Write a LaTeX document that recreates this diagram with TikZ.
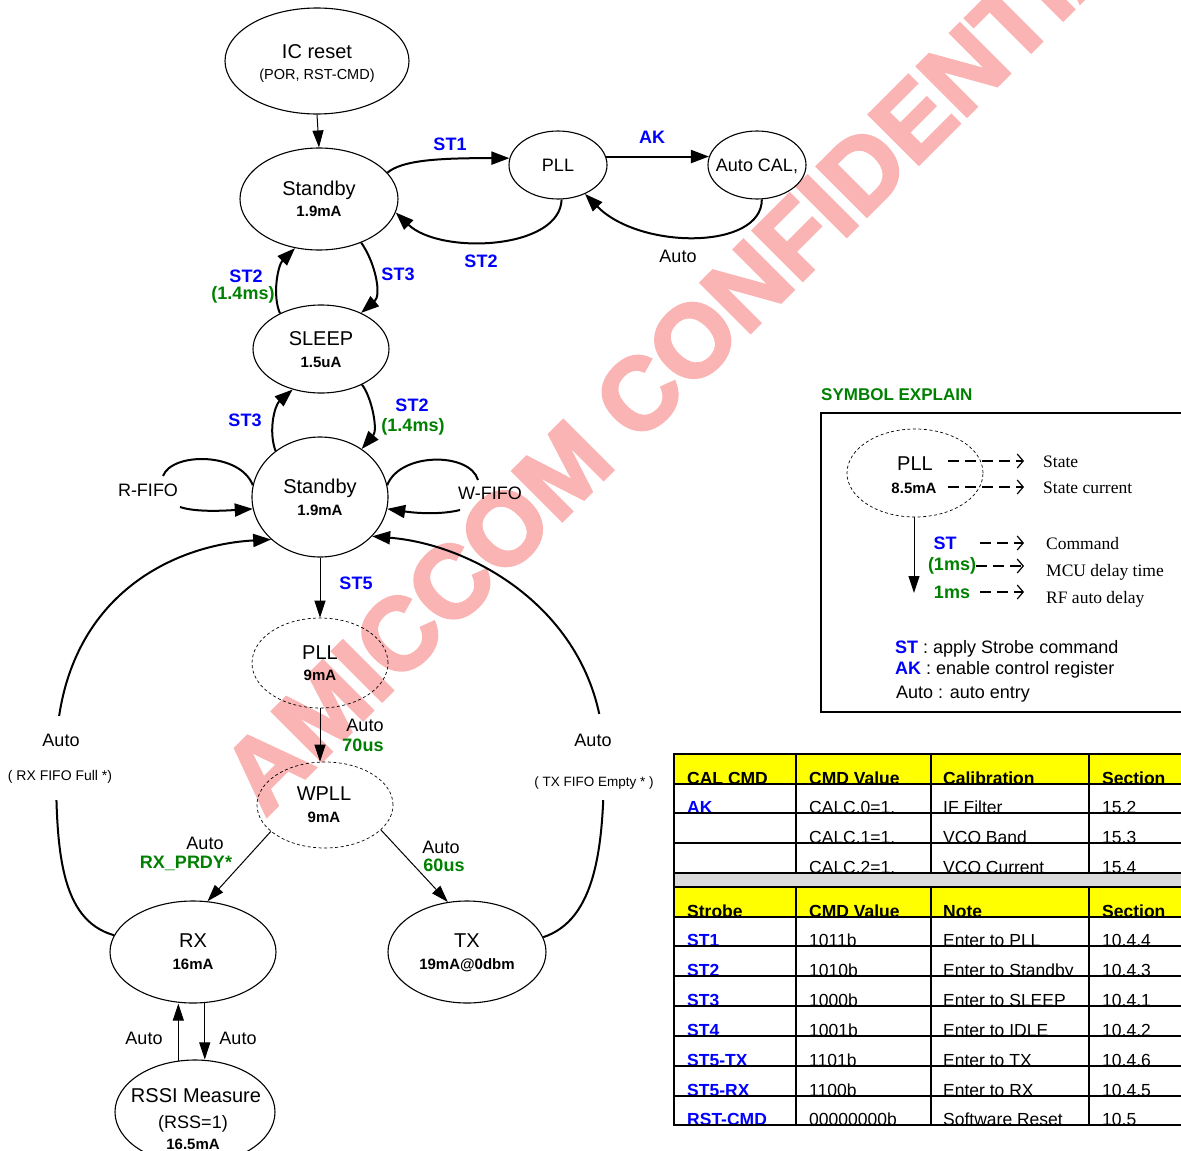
\documentclass[tikz,border=0pt]{standalone}
\usepackage{fontspec}
\setmainfont{Liberation Sans}
\newfontfamily\serifface{Liberation Serif}
\newfontfamily\wmface[FakeBold=3]{Liberation Sans Bold}
\usetikzlibrary{arrows.meta,shapes.geometric,calc}
\definecolor{stblue}{RGB}{0,0,255}
\definecolor{stgreen}{RGB}{0,128,0}
\definecolor{wmpink}{RGB}{250,180,180}
\definecolor{hdryellow}{RGB}{255,255,0}
\definecolor{bandgray}{RGB}{218,218,218}
\newcommand\fsz[1]{\fontsize{#1pt}{#1pt}\selectfont}
\newcommand\tabrow[6]{%
  \node[tcell] (#1a) at (687,#2) {#3};
  \node[tcell] (#1b) at (809,#2) {#4};
  \node[tcell] (#1c) at (943,#2) {#5};
  \node[tcell] (#1d) at (1102,#2) {#6};}
\begin{document}
\begin{tikzpicture}[x=1pt,y=-1pt,
  st/.style={draw, ellipse, line width=1.1pt, inner sep=0pt},
  dst/.style={draw, ellipse, dash pattern=on 3pt off 2.5pt, line width=0.7pt, inner sep=0pt},
  big/.style={anchor=base, inner sep=0pt, font=\fsz{20}},
  cur/.style={anchor=base, inner sep=0pt, font=\fsz{15}\bfseries},
  lb/.style={inner sep=0pt, font=\fsz{18}},
  stl/.style={inner sep=0pt, font=\fsz{18}\bfseries, text=stblue},
  gtl/.style={inner sep=0pt, font=\fsz{18}\bfseries, text=stgreen},
  thk/.style={line width=2pt, -{Triangle[length=18pt,width=13pt]}},
  thn/.style={line width=1pt, -{Triangle[length=17pt,width=11pt]}},
  legdash/.style={line width=1.2pt, dash pattern=on 11pt off 6pt, -{Straight Barb[length=6pt,width=14pt]}},
  sertext/.style={anchor=base west, inner sep=0pt, font=\serifface\fsz{17.5}},
  legtext/.style={anchor=base west, inner sep=0pt, font=\fsz{18}},
  tcell/.style={anchor=base west, inner sep=0pt, font=\fsz{17.5}},
]
\useasboundingbox (0,0) rectangle (1181,1151);
\clip (0,0) rectangle (1181,1151);

% watermark
\node[rotate=45, anchor=base west, inner sep=0pt, text=wmpink, font=\wmface\fsz{102}] (wmk) at (265,818) {AMICCOM CONFIDENTIAL};

% states
\node[st, minimum width=184, minimum height=106] (ic) at (317,61) {};
\node[st, minimum width=158, minimum height=102] (sb1) at (319,199) {};
\node[st, minimum width=98, minimum height=68] (pll1) at (558,165) {};
\node[st, minimum width=98, minimum height=68] (cal) at (757,165) {};
\node[st, minimum width=136, minimum height=88] (slp) at (321,349) {};
\node[st, minimum width=136, minimum height=120] (sb2) at (320,497) {};
\node[dst, minimum width=136, minimum height=90] (pll2) at (320,663) {};
\node[dst, minimum width=136, minimum height=86] (wpll) at (325,805) {};
\node[st, minimum width=166, minimum height=102] (rx) at (193,952) {};
\node[st, minimum width=158, minimum height=102] (tx) at (467,952) {};
\node[st, minimum width=160, minimum height=104] (rssi) at (195,1112) {};

% state texts
\node[big] (ic-t1) at (317,58) {IC reset};
\node[anchor=base, inner sep=0pt, font=\fsz{14.5}] (ic-t2) at (317,79) {(POR, RST-CMD)};
\node[big] (sb1-t1) at (319,195) {Standby};
\node[cur] (sb1-t2) at (319,216.5) {1.9mA};
\node[big, font=\fsz{18}] (pll1-t) at (558,171.5) {PLL};
\node[big, font=\fsz{18}] (cal-t) at (757,171.5) {Auto CAL,};
\node[big] (slp-t1) at (321,345) {SLEEP};
\node[cur] (slp-t2) at (321,367.5) {1.5uA};
\node[big] (sb2-t1) at (320,493.5) {Standby};
\node[cur] (sb2-t2) at (320,515.5) {1.9mA};
\node[big] (pll2-t1) at (320,659) {PLL};
\node[cur] (pll2-t2) at (320,680.5) {9mA};
\node[big] (wpll-t1) at (324,800) {WPLL};
\node[cur] (wpll-t2) at (324,822.5) {9mA};
\node[big] (rx-t1) at (193,947) {RX};
\node[cur] (rx-t2) at (193,969.5) {16mA};
\node[big] (tx-t1) at (467,947) {TX};
\node[cur] (tx-t2) at (467,969.5) {19mA@0dbm};
\node[big] (rssi-t1) at (196,1102) {RSSI Measure};
\node[big, font=\fsz{18}] (rssi-t2) at (193,1128) {(RSS=1)};
\node[cur] (rssi-t3) at (193,1149) {16.5mA};

% transitions
\draw[thn] (ic.south) -- (sb1.north);
\draw[thk] (sb1.21) .. controls (402,160) and (440,158) .. (pll1.172);
\draw[thk] (pll1.10) -- (cal.170);
\draw[thk] (pll1.-84) .. controls (560,250) and (440,255) .. (sb1.-10);
\draw[thk] (cal.-82) .. controls (762,250) and (640,250) .. (pll1.-47);
\draw[thk] (sb1.-46) .. controls (375,262) and (382,295) .. (slp.42);
\draw[thk] (slp.139) .. controls (272,295) and (278,265) .. (sb1.-116);
\draw[thk] (slp.-41) .. controls (372,398) and (378,430) .. (sb2.49);
\draw[thk] (sb2.134) .. controls (268,430) and (275,405) .. (slp.-125);

\coordinate (rf1) at (163,476);
\coordinate (rf2) at (180,507);
\draw[line width=2pt] (rf1) .. controls (172,452) and (240,452) .. (sb2.170);
\draw[thk] (rf2) .. controls (195,512) and (220,511) .. (sb2.-170);
\coordinate (wf1) at (478,480);
\coordinate (wf2) at (460,510);
\draw[line width=2pt] (sb2.10) .. controls (400,452) and (470,452) .. (wf1);
\draw[thk] (wf2) .. controls (440,515) and (415,513) .. (sb2.-10);

\draw[thn] (sb2.south) -- (pll2.north);
\draw[thn] (pll2.south) -- (pll2.south |- wpll.north);
\draw[thn] (wpll.-154) -- (rx.74);
\draw[thn] (wpll.-24) -- (tx.111);

\draw[thk] (rx.168) .. controls (60,920) and (56,850) .. (56,760) .. controls (56,600) and (170,545) .. (sb2.-139);
\draw[thk] (tx.11) .. controls (595,920) and (604,850) .. (604,760) .. controls (604,620) and (480,545) .. (sb2.-37);
\node[fill=white, minimum width=40, minimum height=84, inner sep=0pt] (gapL) at (57,758) {};
\node[fill=white, minimum width=40, minimum height=86, inner sep=0pt] (gapR) at (604,757) {};

\draw[thn] (rssi.108) -- (rssi.108 |- rx.south);
\draw[thn] (rx.-77) -- (rx.-77 |- rssi.north);

% transition labels
\node[stl] (l-st1) at (450,144) {ST1};
\node[stl] (l-ak) at (652,137) {AK};
\node[stl] (l-st2a) at (481,261) {ST2};
\node[lb] (l-auto1) at (678,256) {Auto};
\node[stl] (l-st3a) at (398,274) {ST3};
\node[stl] (l-st2b) at (246,276) {ST2};
\node[gtl] (l-d1) at (243,295) {(1.4ms)};
\node[stl] (l-st3b) at (245,420) {ST3};
\node[stl] (l-st2c) at (412,405) {ST2};
\node[gtl] (l-d2) at (413,427) {(1.4ms)};
\node[lb] (l-rf) at (148,490) {R-FIFO};
\node[lb] (l-wf) at (490,493) {W-FIFO};
\node[stl] (l-st5) at (356,583) {ST5};
\node[lb] (l-auto2) at (365,725) {Auto};
\node[gtl] (l-70) at (363,745) {70us};
\node[lb] (l-auto3) at (205,843) {Auto};
\node[gtl] (l-prdy) at (186,863) {RX\_PRDY*};
\node[lb] (l-auto4) at (441,847) {Auto};
\node[gtl] (l-60) at (444,865) {60us};
\node[lb] (l-auto5) at (61,740) {Auto};
\node[lb, font=\fsz{14}] (l-rxf) at (60,777) {( RX FIFO Full *)};
\node[lb] (l-auto6) at (593,740) {Auto};
\node[lb, font=\fsz{13.5}] (l-txe) at (594,783) {( TX FIFO Empty * )};
\node[lb] (l-auto7) at (144,1038) {Auto};
\node[lb] (l-auto8) at (238,1038) {Auto};

% legend
\node[gtl, font=\fsz{17}\bfseries, anchor=west] (symt) at (821,395) {SYMBOL EXPLAIN};
\draw[line width=1.5pt] (1190,413) -- (821,413) -- (821,712) -- (1190,712);
\node[dst, minimum width=136, minimum height=88] (leg) at (915,473) {};
\node[big] (legpll) at (915,470) {PLL};
\node[cur] (legcur) at (914,493) {8.5mA};
\node[sertext] (lstate) at (1043,467) {State};
\node[sertext] (lcur) at (1043,493) {State current};
\node[stl, anchor=base] (lst) at (945,549) {ST};
\node[gtl, anchor=base] (l1ms) at (952,570) {(1ms)};
\node[gtl, anchor=base] (lrf) at (952,598) {1ms};
\node[sertext] (lcmd) at (1046,549) {Command};
\node[sertext] (lmcu) at (1046,576) {MCU delay time};
\node[sertext] (lrfd) at (1046,603) {RF auto delay};
\coordinate (da1) at (948,461); \coordinate (db1) at (1024,461);
\coordinate (da2) at (948,487); \coordinate (db2) at (1024,487);
\coordinate (da3) at (980,543); \coordinate (db3) at (1024,543);
\coordinate (da4) at (976,566); \coordinate (db4) at (1024,566);
\coordinate (da5) at (980,592); \coordinate (db5) at (1024,592);
\draw[legdash] (da1) -- (db1);
\draw[legdash] (da2) -- (db2);
\draw[legdash] (da3) -- (db3);
\draw[legdash] (da4) -- (db4);
\draw[legdash] (da5) -- (db5);
\coordinate (lv) at (914,593);
\draw[thn] (leg.south -| lv) -- (lv);
\node[legtext] (lk1) at (895,653) {\textcolor{stblue}{\bfseries ST} : apply Strobe command};
\node[legtext] (lk2) at (895,674) {\textcolor{stblue}{\bfseries AK} : enable control register};
\node[legtext] (lk3) at (896,698) {Auto : auto entry};

% tables
\fill[hdryellow] (674,754) rectangle (1190,783.5);
\fill[hdryellow] (674,887) rectangle (1190,916.5);
\tabrow{h1}{784.2}{\bfseries CAL CMD}{\bfseries CMD Value}{\bfseries Calibration}{\bfseries Section}
\tabrow{c1}{813.7}{\textcolor{stblue}{\bfseries AK}}{CALC.0=1.}{IF Filter}{15.2}
\tabrow{c2}{843.7}{}{CALC.1=1.}{VCO Band}{15.3}
\tabrow{c3}{873.7}{}{CALC.2=1.}{VCO Current}{15.4}
\tabrow{h2}{917.2}{\bfseries Strobe}{\bfseries CMD Value}{\bfseries Note}{\bfseries Section}
\tabrow{s1}{946.7}{\textcolor{stblue}{\bfseries ST1}}{1011b}{Enter to PLL}{10.4.4}
\tabrow{s2}{976.7}{\textcolor{stblue}{\bfseries ST2}}{1010b}{Enter to Standby}{10.4.3}
\tabrow{s3}{1006.7}{\textcolor{stblue}{\bfseries ST3}}{1000b}{Enter to SLEEP}{10.4.1}
\tabrow{s4}{1036.7}{\textcolor{stblue}{\bfseries ST4}}{1001b}{Enter to IDLE}{10.4.2}
\tabrow{s5}{1066.7}{\textcolor{stblue}{\bfseries ST5-TX}}{1101b}{Enter to TX}{10.4.6}
\tabrow{s6}{1096.2}{\textcolor{stblue}{\bfseries ST5-RX}}{1100b}{Enter to RX}{10.4.5}
\tabrow{s7}{1125.2}{\textcolor{stblue}{\bfseries RST-CMD}}{00000000b}{Software Reset}{10.5}
\fill[bandgray] (674,873) rectangle (1190,887);
\fill[white] (931,977) rectangle (1089,985);
\fill[white] (674,1125.5) rectangle (1190,1151);
\foreach \yy in {754,783.5,813,843,873,887,916.5,946,976,1006,1036,1066,1095.5,1124.5}
  \draw[line width=2pt] (674,\yy) -- (1190,\yy);
\draw[line width=2pt] (674,753) -- (674,1125.5);
\foreach \xx in {796,931,1089} {
  \draw[line width=2pt] (\xx,754) -- (\xx,873);
  \draw[line width=2pt] (\xx,887) -- (\xx,1124.5);
}
\end{tikzpicture}
\end{document}
